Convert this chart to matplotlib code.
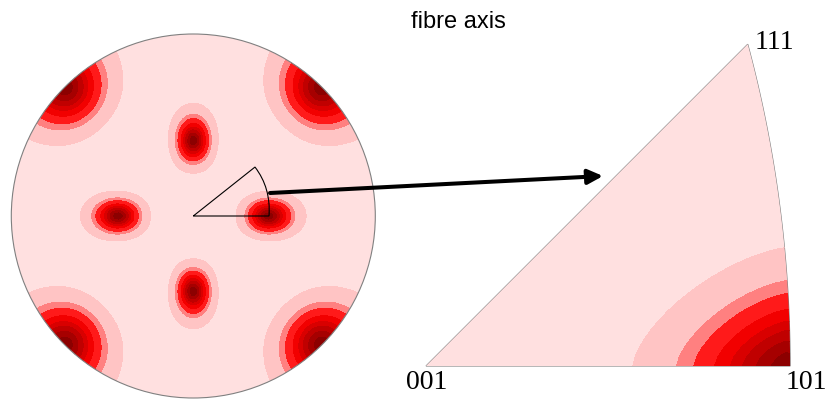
import numpy as np
import matplotlib.pyplot as plt
from matplotlib.patches import Circle, PathPatch
from matplotlib.path import Path

# normalised density levels and the fill colour of each band (lowest first)
levels = [0.14, 0.30, 0.39, 0.52, 0.63, 0.72, 0.82, 0.92]
band_colors = ['#ffe0e0', '#ffc4c4', '#ff8080', '#ff1a1a', '#f20000',
               '#d90000', '#c00000', '#a60000', '#8c0000']

# pole figure maxima: polar angle, azimuth, radial / tangential width (deg)
peak_theta = [45, 45, 45, 45, 90, 90, 90, 90]
peak_phi = [0, 90, 180, 270, 45, 135, 225, 315]
peak_w_rad = [11.8, 11.8, 11.8, 11.8, 12.7, 12.7, 12.7, 12.7]
peak_w_tan = [8.6, 8.6, 8.6, 8.6, 12.7, 12.7, 12.7, 12.7]

# inverse pole figure: one maximum at 101, widths towards 001 and towards 111
ipf_peak = [np.sqrt(2) - 1, 0.0]
ipf_width = [0.114, 0.086]
ipf_norm = 1.5
falloff = 1.5

# sector of the pole figure mapped onto the inverse pole figure
sector_corner = [0.416, 0.0]
sector_bulge = [0.427, 0.154]
sector_apex = [0.339, 0.269]

# layout in pixels
pf_cx, pf_cy, pf_R = 193.3, 216.0, 182.0
ipf_x0, ipf_y0, ipf_s = 426.0, 366.0, 879.0


def pf(x, y):
    return pf_cx + pf_R * np.asarray(x), pf_cy - pf_R * np.asarray(y)


def ipf(x, y):
    return ipf_x0 + ipf_s * np.asarray(x), ipf_y0 - ipf_s * np.asarray(y)


fig = plt.figure(figsize=(8.3, 3.99), dpi=100)
ax = fig.add_axes([0, 0, 1, 1])
ax.set_xlim(0, 830)
ax.set_ylim(399, 0)
ax.axis('off')

fill_levels = [-1] + levels + [2]

# ---- pole figure (stereographic, upper hemisphere)
g = np.linspace(-1.03, 1.03, 301)
X, Y = np.meshgrid(g, g)
theta = np.degrees(2 * np.arctan(np.hypot(X, Y)))
phi = np.degrees(np.arctan2(Y, X))
F = np.zeros_like(X)
for th0, ph0, wr, wt in zip(peak_theta, peak_phi, peak_w_rad, peak_w_tan):
    dth = theta - th0
    dph = (phi - ph0 + 180) % 360 - 180
    dt = dph * np.sin(np.radians(theta))
    r = np.hypot(dth / wr, dt / wt)
    F += np.exp(-r ** falloff)
F = np.clip(F, 0, 1)

px, py = pf(X, Y)
cs = ax.contourf(px, py, F, levels=fill_levels, colors=band_colors)
disk = Circle((pf_cx, pf_cy), pf_R, facecolor='none', edgecolor='#808080', lw=0.8)
ax.add_patch(disk)
cs.set_clip_path(disk)

# sector outline
sx, sy = pf([0, sector_corner[0], sector_bulge[0], sector_apex[0], 0],
            [0, sector_corner[1], sector_bulge[1], sector_apex[1], 0])
sector = Path(np.column_stack([sx, sy]),
              [Path.MOVETO, Path.LINETO, Path.CURVE3, Path.CURVE3, Path.LINETO])
ax.add_patch(PathPatch(sector, facecolor='none', edgecolor='black', lw=0.8))

# ---- inverse pole figure, cubic fundamental sector 001-101-111
a111 = (np.sqrt(3) - 1) / 2
arc_t = np.linspace(0, np.arctan2(a111, 1 + a111), 40)
arc_x = -1 + np.sqrt(2) * np.cos(arc_t)
arc_y = np.sqrt(2) * np.sin(arc_t)
tri_x = np.concatenate([[0.0], arc_x, [0.0]])
tri_y = np.concatenate([[0.0], arc_y, [0.0]])
tx, ty = ipf(tri_x, tri_y)
tri = PathPatch(Path(np.column_stack([tx, ty]), closed=True),
                facecolor='none', edgecolor='#808080', lw=0.8)
ax.add_patch(tri)

gx = np.linspace(0, 0.42, 40)
gy = np.linspace(0, 0.37, 36)
IX, IY = np.meshgrid(gx, gy)
ir = ((np.abs(IX - ipf_peak[0]) / ipf_width[0]) ** ipf_norm
      + (np.abs(IY - ipf_peak[1]) / ipf_width[1]) ** ipf_norm) ** (1 / ipf_norm)
G = np.exp(-ir ** falloff)
qx, qy = ipf(IX, IY)
cs2 = ax.contourf(qx, qy, G, levels=fill_levels, colors=band_colors)
cs2.set_clip_path(tri)

serif = dict(family='Liberation Serif', fontsize=20)
ax.text(406, 389, '001', ha='left', va='baseline', **serif)
ax.text(786, 389, '101', ha='left', va='baseline', **serif)
ax.text(755, 49, '111', ha='left', va='baseline', **serif)

ax.text(458, 22, 'fibre axis', ha='center', va='center',
        family='Liberation Sans', fontsize=17)

ax.annotate('', xy=(603, 176), xytext=(270, 193),
            arrowprops=dict(arrowstyle='-|>,head_length=0.45,head_width=0.22',
                            lw=2.9, color='black', mutation_scale=20,
                            shrinkA=0, shrinkB=0))

fig.savefig('out.png', dpi=100)
